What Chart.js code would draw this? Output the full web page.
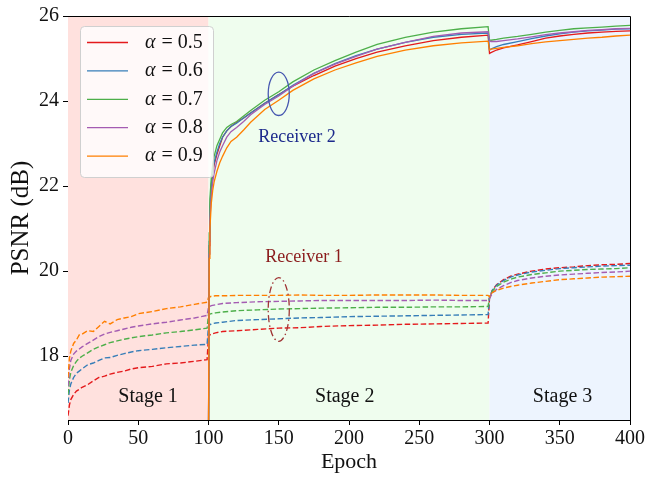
<!DOCTYPE html>
<html>
<head>
<meta charset="utf-8">
<title>PSNR vs Epoch</title>
<script src="https://cdn.jsdelivr.net/npm/chart.js@4.4.1/dist/chart.umd.min.js"></script>
<style>
  html, body { margin: 0; padding: 0; background: #fff; }
  #wrap { width: 647px; height: 477px; }
</style>
</head>
<body>
<div id="wrap"><canvas id="psnrChart"></canvas></div>
<script>
const alphas = ['0.5', '0.6', '0.7', '0.8', '0.9'];
const lineColors = ['#e41a1c', '#377eb8', '#4daf4a', '#a45cb2', '#ff7f00'];

// Receiver 1 (dashed)
const epochsR1 = [0, 1, 2, 4, 6, 8, 10, 14, 18, 22, 26, 30, 35, 40, 45, 50, 60, 70, 80, 90, 99,
  100, 102, 105, 110, 120, 135, 150, 165, 180, 200, 220, 240, 260, 280, 299,
  300, 302, 305, 310, 315, 320, 330, 340, 350, 360, 370, 380, 390, 400];
const r1_05 = [16.6, 16.85, 16.98, 17.1, 17.18, 17.22, 17.27, 17.33, 17.42, 17.5, 17.53, 17.58, 17.62, 17.65, 17.7, 17.73, 17.76, 17.82, 17.84, 17.88, 17.92,
  18.48, 18.52, 18.55, 18.58, 18.6, 18.63, 18.66, 18.67, 18.7, 18.72, 18.73, 18.75, 18.76, 18.77, 18.78,
  19.36, 19.55, 19.68, 19.8, 19.88, 19.93, 20.0, 20.05, 20.08, 20.1, 20.13, 20.15, 20.16, 20.18];
const r1_06 = [16.9, 17.2, 17.35, 17.5, 17.6, 17.65, 17.7, 17.8, 17.84, 17.9, 17.96, 17.97, 18.02, 18.06, 18.1, 18.13, 18.16, 18.2, 18.23, 18.26, 18.28,
  18.72, 18.76, 18.78, 18.8, 18.84, 18.86, 18.88, 18.9, 18.91, 18.93, 18.94, 18.95, 18.96, 18.97, 18.98,
  19.38, 19.55, 19.67, 19.78, 19.86, 19.91, 19.98, 20.02, 20.06, 20.08, 20.1, 20.12, 20.13, 20.14];
const r1_07 = [17.1, 17.45, 17.62, 17.78, 17.88, 17.95, 18.0, 18.08, 18.16, 18.22, 18.27, 18.32, 18.36, 18.4, 18.43, 18.46, 18.5, 18.55, 18.58, 18.62, 18.66,
  18.98, 19.0, 19.02, 19.04, 19.07, 19.09, 19.11, 19.12, 19.13, 19.14, 19.15, 19.15, 19.16, 19.16, 19.17,
  19.38, 19.53, 19.64, 19.74, 19.81, 19.86, 19.92, 19.96, 20.0, 20.02, 20.04, 20.05, 20.06, 20.08];
const r1_08 = [17.3, 17.7, 17.9, 18.05, 18.12, 18.17, 18.22, 18.3, 18.38, 18.46, 18.52, 18.56, 18.6, 18.64, 18.68, 18.71, 18.76, 18.8, 18.85, 18.9, 18.96,
  19.15, 19.19, 19.21, 19.24, 19.26, 19.28, 19.29, 19.3, 19.31, 19.31, 19.31, 19.31, 19.32, 19.31, 19.31,
  19.36, 19.48, 19.57, 19.66, 19.73, 19.78, 19.84, 19.88, 19.91, 19.93, 19.95, 19.97, 19.98, 20.0];
const r1_09 = [17.5, 17.95, 18.12, 18.3, 18.38, 18.5, 18.52, 18.6, 18.58, 18.7, 18.82, 18.76, 18.86, 18.9, 18.93, 19.0, 19.05, 19.12, 19.16, 19.22, 19.27,
  19.38, 19.41, 19.42, 19.42, 19.43, 19.43, 19.43, 19.44, 19.43, 19.43, 19.44, 19.44, 19.44, 19.43, 19.43,
  19.4, 19.5, 19.55, 19.6, 19.64, 19.67, 19.72, 19.76, 19.8, 19.82, 19.84, 19.86, 19.87, 19.88];

// Receiver 2 (solid), starts when stage 2 begins
const epochsR2 = [100, 100.5, 101, 102, 103, 104, 106, 108, 110, 113, 116, 120, 125, 130, 140, 150, 160, 175, 190, 205, 220, 240, 260, 280, 299,
  300, 301, 305, 310, 320, 330, 340, 350, 360, 370, 380, 390, 400];
const r2_05 = [16.0, 20.6, 21.4, 22.0, 22.3, 22.5, 22.75, 22.95, 23.15, 23.3, 23.4, 23.5, 23.6, 23.72, 23.95, 24.15, 24.35, 24.6, 24.82, 25.0, 25.15, 25.3, 25.42, 25.5, 25.55,
  25.12, 25.14, 25.2, 25.25, 25.32, 25.4, 25.48, 25.53, 25.57, 25.6, 25.62, 25.64, 25.65];
const r2_06 = [16.0, 20.7, 21.5, 22.05, 22.35, 22.55, 22.8, 23.0, 23.15, 23.3, 23.4, 23.48, 23.6, 23.72, 23.95, 24.15, 24.37, 24.65, 24.88, 25.07, 25.22, 25.38, 25.5, 25.57, 25.6,
  25.2, 25.22, 25.28, 25.33, 25.4, 25.47, 25.53, 25.58, 25.62, 25.65, 25.67, 25.69, 25.7];
const r2_07 = [16.0, 20.9, 21.7, 22.2, 22.5, 22.7, 22.95, 23.1, 23.25, 23.38, 23.45, 23.52, 23.65, 23.78, 24.02, 24.22, 24.45, 24.73, 24.95, 25.15, 25.33, 25.5, 25.62, 25.7, 25.75,
  25.44, 25.43, 25.45, 25.48, 25.52, 25.57, 25.62, 25.66, 25.7, 25.72, 25.74, 25.76, 25.78];
const r2_08 = [16.0, 20.4, 21.2, 21.8, 22.1, 22.3, 22.6, 22.8, 22.95, 23.15, 23.28, 23.38, 23.52, 23.68, 23.92, 24.12, 24.35, 24.65, 24.87, 25.05, 25.22, 25.38, 25.52, 25.6, 25.63,
  25.42, 25.4, 25.4, 25.42, 25.46, 25.51, 25.56, 25.6, 25.63, 25.66, 25.68, 25.7, 25.71];
const r2_09 = [16.0, 20.3, 21.0, 21.6, 21.9, 22.1, 22.35, 22.55, 22.7, 22.9, 23.05, 23.15, 23.32, 23.5, 23.8, 24.02, 24.25, 24.52, 24.73, 24.9, 25.05, 25.2, 25.3, 25.37, 25.41,
  25.2, 25.22, 25.24, 25.26, 25.3, 25.35, 25.39, 25.42, 25.45, 25.48, 25.5, 25.53, 25.55];

const xTicks = [0, 50, 100, 150, 200, 250, 300, 350, 400];
const yTicks = [18, 20, 22, 24, 26];
const stageNames = ['Stage 1', 'Stage 2', 'Stage 3'];
const stageEdges = [0, 100, 300, 400];
const stageFills = ['#ffe1de', '#effdee', '#edf4fe'];

const r1Series = [r1_05, r1_06, r1_07, r1_08, r1_09];
const r2Series = [r2_05, r2_06, r2_07, r2_08, r2_09];
const SERIF = "'Liberation Serif', 'Times New Roman', serif";

const toPoints = (xs, ys) => xs.map((x, i) => ({ x: x, y: ys[i] }));

// bottom-most first; reversed below since Chart.js paints dataset 0 last
let datasets = [];
r1Series.forEach((ys, i) => datasets.push({
    label: 'R1 α = ' + alphas[i],
    data: toPoints(epochsR1, ys),
    borderColor: lineColors[i],
    borderWidth: 1.4,
    borderDash: [5.5, 2.5],
    pointRadius: 0,
    tension: 0
}));
r2Series.forEach((ys, i) => datasets.push({
    label: 'α = ' + alphas[i],
    data: toPoints(epochsR2, ys),
    borderColor: lineColors[i],
    borderWidth: 1.3,
    pointRadius: 0,
    tension: 0
}));
datasets = datasets.reverse();

const stagePlugin = {
    id: 'stages',
    beforeDatasetsDraw(chart) {
        const { ctx, chartArea: a, scales: { x, y } } = chart;
        ctx.save();
        for (let i = 0; i < stageNames.length; i++) {
            const x0 = x.getPixelForValue(stageEdges[i]);
            const x1 = x.getPixelForValue(stageEdges[i + 1]);
            ctx.fillStyle = stageFills[i];
            ctx.fillRect(x0, a.top, x1 - x0, a.bottom - a.top);
        }
        ctx.fillStyle = '#111';
        ctx.font = '20px ' + SERIF;
        ctx.textAlign = 'center';
        ctx.textBaseline = 'middle';
        const labelX = [57, 197, 352];
        stageNames.forEach((s, i) => {
            ctx.fillText(s, x.getPixelForValue(labelX[i]), y.getPixelForValue(17.05));
        });
        ctx.restore();
    }
};

const notePlugin = {
    id: 'notes',
    afterDatasetsDraw(chart) {
        const { ctx, chartArea: a, scales: { x, y } } = chart;
        ctx.save();
        const ell = (cx, cy, hw, hh) => {
            const px = x.getPixelForValue(cx), py = y.getPixelForValue(cy);
            const rx = x.getPixelForValue(cx + hw) - px;
            const ry = py - y.getPixelForValue(cy + hh);
            ctx.beginPath();
            ctx.ellipse(px, py, rx, ry, 0, 0, Math.PI * 2);
            ctx.stroke();
        };
        ctx.lineWidth = 1.3;
        ctx.strokeStyle = '#4657b0';
        ell(150, 24.17, 7.5, 0.51);
        ctx.strokeStyle = '#a03535';
        ctx.setLineDash([7, 3, 1.5, 3]);
        ell(150, 19.1, 7.5, 0.75);
        ctx.setLineDash([]);

        ctx.font = '18px ' + SERIF;
        ctx.textAlign = 'center';
        ctx.textBaseline = 'middle';
        ctx.fillStyle = '#1c2a8c';
        ctx.fillText('Receiver 2', x.getPixelForValue(163), y.getPixelForValue(23.14));
        ctx.fillStyle = '#8b1c1c';
        ctx.fillText('Receiver 1', x.getPixelForValue(168), y.getPixelForValue(20.33));

        // top and right spines
        ctx.strokeStyle = '#000';
        ctx.lineWidth = 1;
        ctx.beginPath();
        ctx.moveTo(a.left, a.top + 0.5);
        ctx.lineTo(a.right + 0.5, a.top + 0.5);
        ctx.lineTo(a.right + 0.5, a.bottom);
        ctx.stroke();

        // legend for the solid lines
        const lx = a.left + 12, ly = a.top + 10, lw = 133, lh = 151;
        ctx.fillStyle = 'rgba(255,255,255,0.8)';
        ctx.strokeStyle = '#d0d0d0';
        ctx.beginPath();
        ctx.roundRect(lx + 0.5, ly + 0.5, lw, lh, 4);
        ctx.fill();
        ctx.stroke();
        ctx.textAlign = 'left';
        alphas.forEach((al, i) => {
            const rowY = ly + 16.5 + i * 28.4;
            ctx.strokeStyle = lineColors[i];
            ctx.lineWidth = 1.3;
            ctx.beginPath();
            ctx.moveTo(lx + 7, rowY);
            ctx.lineTo(lx + 48, rowY);
            ctx.stroke();
            ctx.fillStyle = '#111';
            ctx.font = 'italic 20px ' + SERIF;
            ctx.fillText('α', lx + 65, rowY);
            const aw = ctx.measureText('α').width;
            ctx.font = '20px ' + SERIF;
            ctx.fillText(' = ' + al, lx + 65 + aw + 1, rowY);
        });
        ctx.restore();
    }
};

new Chart(document.getElementById('psnrChart'), {
    type: 'line',
    data: { datasets: datasets },
    options: {
        responsive: true,
        maintainAspectRatio: false,
        animation: false,
        layout: { padding: { left: 0, top: 15, right: 17, bottom: 0 } },
        plugins: { legend: { display: false }, tooltip: { enabled: false } },
        scales: {
            x: {
                type: 'linear',
                min: 0,
                max: 400,
                afterBuildTicks: s => { s.ticks = xTicks.map(v => ({ value: v })); },
                afterFit: s => { s.height = 57; },
                border: { color: '#000', width: 1 },
                grid: { drawOnChartArea: false, color: '#000', tickLength: 5 },
                ticks: { color: '#111', font: { family: SERIF, size: 20 }, padding: 2, maxRotation: 0 },
                title: { display: true, text: 'Epoch', color: '#111', font: { family: SERIF, size: 22 }, padding: { top: 0, bottom: 2 } }
            },
            y: {
                min: 16.5,
                max: 26,
                afterBuildTicks: s => { s.ticks = yTicks.map(v => ({ value: v })); },
                afterFit: s => { s.width = 68; },
                border: { color: '#000', width: 1 },
                grid: { drawOnChartArea: false, color: '#000', tickLength: 5 },
                ticks: { color: '#111', font: { family: SERIF, size: 20 }, padding: 4 },
                title: { display: true, text: 'PSNR (dB)', color: '#111', font: { family: SERIF, size: 25 }, padding: { top: 6, bottom: 0 } }
            }
        }
    },
    plugins: [stagePlugin, notePlugin]
});
</script>
</body>
</html>
